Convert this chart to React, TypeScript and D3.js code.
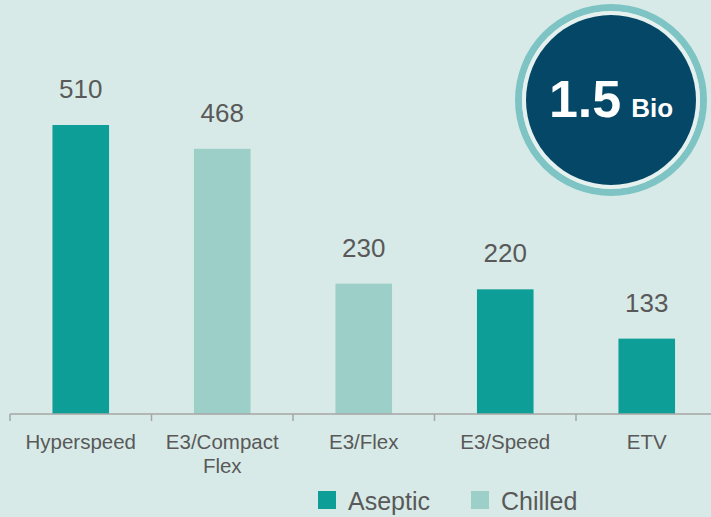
import React, { useEffect, useRef } from "react";
import * as d3 from "d3";

// chart data
const categories = ["Hyperspeed", "E3/Compact Flex", "E3/Flex", "E3/Speed", "ETV"];
const values = [510, 468, 230, 220, 133];
const types = ["Aseptic", "Chilled", "Chilled", "Aseptic", "Aseptic"];
const legendItems = ["Aseptic", "Chilled"];
const totalLabel = "1.5";
const totalUnit = "Bio";

const colors: Record<string, string> = { Aseptic: "#0e9e98", Chilled: "#9dcfc9" };

const App = () => {
  const ref = useRef<SVGSVGElement | null>(null);

  useEffect(() => {
    if (!ref.current) return;
    const svg = d3.select(ref.current);
    svg.selectAll("*").remove();
    const width = 711;
    const height = 517;
    const axisY = 414;
    const font = "'Liberation Sans', Arial, sans-serif";

    svg.append("rect").attr("width", width).attr("height", height).attr("fill", "#d7eae7");

    const x = d3
      .scaleBand()
      .domain(categories)
      .range([10, 10 + 141.5 * categories.length])
      .paddingInner(0.6)
      .paddingOuter(0.3);
    // band boundaries for ticks
    const step = x.step();
    const x0 = 10;

    const y = d3.scaleLinear().domain([0, 510]).range([axisY, 125]);

    const data = categories.map((c, i) => ({ cat: c, value: values[i], type: types[i] }));

    svg
      .append("g")
      .selectAll("rect")
      .data(data)
      .join("rect")
      .attr("x", (d) => x(d.cat) as number)
      .attr("y", (d) => y(d.value))
      .attr("width", x.bandwidth())
      .attr("height", (d) => axisY - y(d.value))
      .attr("fill", (d) => colors[d.type]);

    // value labels
    svg
      .append("g")
      .selectAll("text")
      .data(data)
      .join("text")
      .attr("x", (d) => (x(d.cat) as number) + x.bandwidth() / 2)
      .attr("y", (d) => y(d.value) - 27)
      .attr("text-anchor", "middle")
      .attr("font-family", font)
      .attr("font-size", 26)
      .attr("fill", "#595959")
      .text((d) => d.value);

    // axis
    const axis = svg.append("g").attr("stroke", "#a6a6a6").attr("stroke-width", 1.5);
    axis.append("line").attr("x1", x0).attr("x2", width).attr("y1", axisY).attr("y2", axisY);
    d3.range(categories.length + 1).forEach((i) => {
      axis
        .append("line")
        .attr("x1", x0 + i * step)
        .attr("x2", x0 + i * step)
        .attr("y1", axisY)
        .attr("y2", axisY + 7);
    });

    // category labels
    const wrap: Record<string, string[]> = { "E3/Compact Flex": ["E3/Compact", "Flex"] };
    svg
      .append("g")
      .selectAll("text")
      .data(categories)
      .join("text")
      .attr("x", (d) => (x(d) as number) + x.bandwidth() / 2)
      .attr("y", 449)
      .attr("text-anchor", "middle")
      .attr("font-family", font)
      .attr("font-size", 20.5)
      .attr("fill", "#595959")
      .each(function (d) {
        const lines = wrap[d] || [d];
        d3.select(this)
          .selectAll("tspan")
          .data(lines)
          .join("tspan")
          .attr("x", (x(d) as number) + x.bandwidth() / 2)
          .attr("dy", (_, i) => (i === 0 ? 0 : 24))
          .text((l) => l);
      });

    // legend
    const legendX = [318, 471];
    const lg = svg.append("g");
    legendItems.forEach((item, i) => {
      lg.append("rect")
        .attr("x", legendX[i])
        .attr("y", 491)
        .attr("width", 18)
        .attr("height", 18)
        .attr("fill", colors[item]);
      lg.append("text")
        .attr("x", legendX[i] + 30)
        .attr("y", 510)
        .attr("font-family", font)
        .attr("font-size", 25)
        .attr("fill", "#595959")
        .text(item);
    });

    // total badge
    const cx = 611;
    const cy = 100;
    const badge = svg.append("g");
    badge.append("circle").attr("cx", cx).attr("cy", cy).attr("r", 92.5).attr("fill", "none").attr("stroke", "#7fc4c5").attr("stroke-width", 7);
    badge.append("circle").attr("cx", cx).attr("cy", cy).attr("r", 89).attr("fill", "#e4f1ef");
    badge.append("circle").attr("cx", cx).attr("cy", cy).attr("r", 85).attr("fill", "#054766");
    const t = badge
      .append("text")
      .attr("x", cx)
      .attr("y", 117)
      .attr("text-anchor", "middle")
      .attr("font-family", font)
      .attr("font-weight", "bold")
      .attr("fill", "#ffffff");
    t.append("tspan").attr("font-size", 52).text(totalLabel);
    t.append("tspan").attr("font-size", 26).attr("dx", 10).text(totalUnit);
  }, []);

  return (
    <svg
      ref={ref}
      width={711}
      height={517}
      style={{ position: "absolute", left: 0, top: 0 }}
    ></svg>
  );
};

export default App;
